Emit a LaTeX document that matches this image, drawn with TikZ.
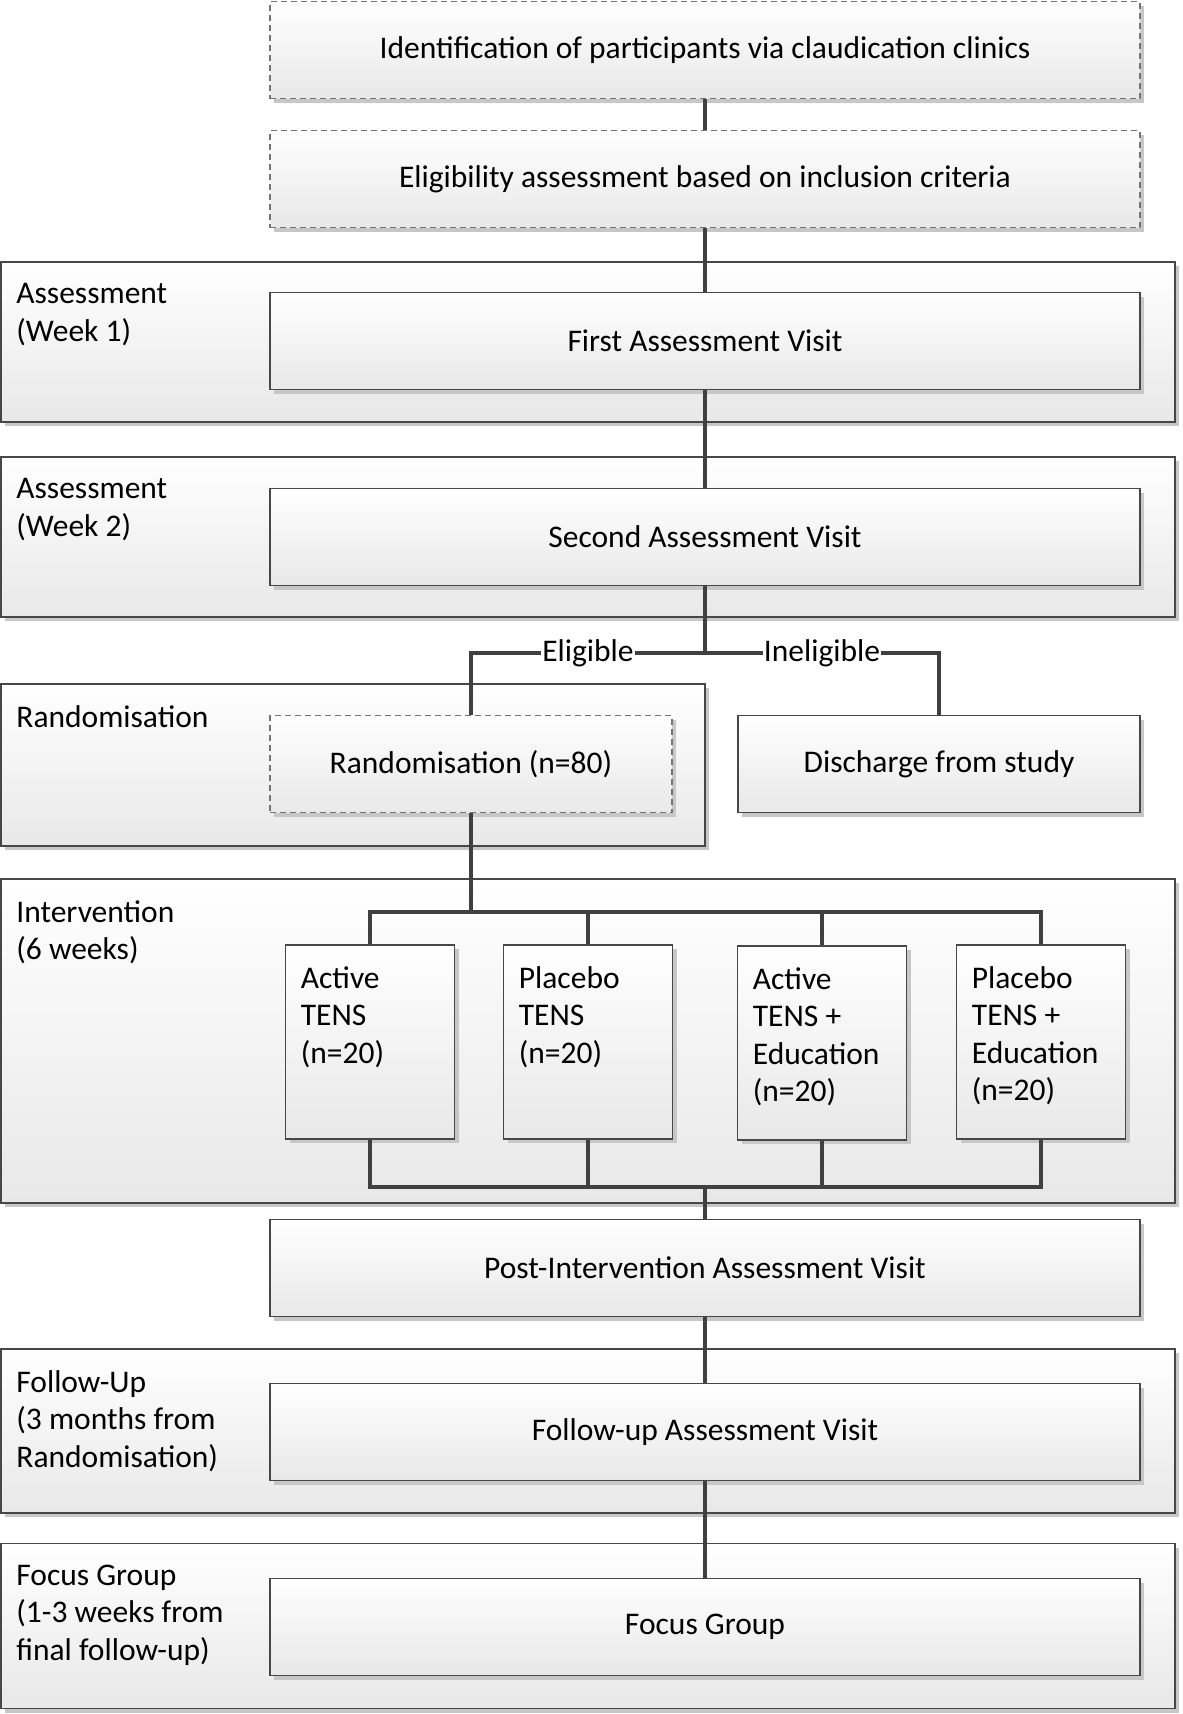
\documentclass[tikz,border=0pt]{standalone}
\usepackage{fontspec}
\setmainfont{Carlito}
\usetikzlibrary{shadows}

\begin{document}
\begin{tikzpicture}[x=1pt, y=-1pt,
    every node/.style={font=\fontsize{31.5}{37.5}\selectfont, text=black},
    shade/.style={top color=white, bottom color=black!9,
      drop shadow={shadow xshift=4pt, shadow yshift=-4pt, fill=black!22, opacity=1}},
    band/.style={rectangle, draw=black!72, line width=1.6pt, shade, minimum width=1174pt, inner sep=0pt},
    box/.style={rectangle, draw=black!72, line width=1.6pt, shade, minimum width=870pt, minimum height=97pt, inner sep=0pt},
    dbox/.style={box, draw=black!55, dash pattern=on 6pt off 4pt},
    grp/.style={box, minimum width=169pt, minimum height=194pt},
    tag/.style={anchor=north west, align=left, inner sep=0pt},
    link/.style={draw=black!75, line width=3.6pt},
    lbl/.style={fill=white, inner sep=1pt}
  ]
  \useasboundingbox (0,0) rectangle (1183,1714);

  % stage bands
  \node (week1) [band, minimum height=160pt] at (588, 342) {};
  \node (week2) [band, minimum height=160pt] at (588, 537) {};
  \node (randband) [band, minimum width=704pt, minimum height=162pt] at (353, 765) {};
  \node (interv) [band, minimum height=324pt] at (588, 1041) {};
  \node (follow) [band, minimum height=164pt] at (588, 1431) {};
  \node (focus) [band, minimum height=165pt] at (588, 1626) {};

  \node [tag] at ([shift={(16,22)}]week1.north west) {Assessment\\(Week 1)};
  \node [tag] at ([shift={(16,22)}]week2.north west) {Assessment\\(Week 2)};
  \node [tag] at ([shift={(16,22)}]randband.north west) {Randomisation};
  \node [tag] at ([shift={(16,22)}]interv.north west) {Intervention\\(6 weeks)};
  \node [tag] at ([shift={(16,22)}]follow.north west) {Follow-Up\\(3 months from\\Randomisation)};
  \node [tag] at ([shift={(16,22)}]focus.north west) {Focus Group\\(1-3 weeks from\\final follow-up)};

  % boxes
  \node (ident) [dbox] at (705, 50) {Identification of participants via claudication clinics};
  \node (elig) [dbox] at (705, 179) {Eligibility assessment based on inclusion criteria};
  \node (first) [box] at (705, 341) {First Assessment Visit};
  \node (second) [box] at (705, 537) {Second Assessment Visit};
  \node (rand) [dbox, minimum width=402pt] at (471, 764) {Randomisation (n=80)};
  \node (disch) [box, minimum width=402pt] at (939, 764) {Discharge from study};
  \node (g1) [grp] at (370, 1042) {};
  \node (g2) [grp] at (588, 1042) {};
  \node (g3) [grp] at (822, 1043) {};
  \node (g4) [grp] at (1041, 1042) {};
  \node [tag] at ([shift={(16,22)}]g1.north west) {Active\\TENS\\(n=20)};
  \node [tag] at ([shift={(16,22)}]g2.north west) {Placebo\\TENS\\(n=20)};
  \node [tag] at ([shift={(16,22)}]g3.north west) {Active\\TENS +\\Education\\(n=20)};
  \node [tag] at ([shift={(16,22)}]g4.north west) {Placebo\\TENS +\\Education\\(n=20)};
  \node (post) [box] at (705, 1268) {Post-Intervention Assessment Visit};
  \node (fupvisit) [box] at (705, 1432) {Follow-up Assessment Visit};
  \node (fgroup) [box] at (705, 1627) {Focus Group};

  \coordinate (fork) at (705, 653);
  \coordinate (split) at (471, 912);
  \coordinate (merge) at (705, 1187);

  % connectors
  \draw[link] (ident) -- (elig);
  \draw[link] (elig) -- (first);
  \draw[link] (first) -- (second);
  \draw[link] (second.south) -- (fork);
  \draw[link] (fork) -| (rand.north) node [lbl, pos=0.25] {Eligible};
  \draw[link] (fork) -| (disch.north) node [lbl, pos=0.25] {Ineligible};
  \draw[link] (rand.south) -- (split);
  \foreach \g in {g1, g2, g3, g4} {
    \draw[link] (split) -| (\g.north);
    \draw[link] (\g.south) |- (merge);
  }
  \draw[link] (merge) -- (post.north);
  \draw[link] (post) -- (fupvisit);
  \draw[link] (fupvisit) -- (fgroup);
\end{tikzpicture}
\end{document}
